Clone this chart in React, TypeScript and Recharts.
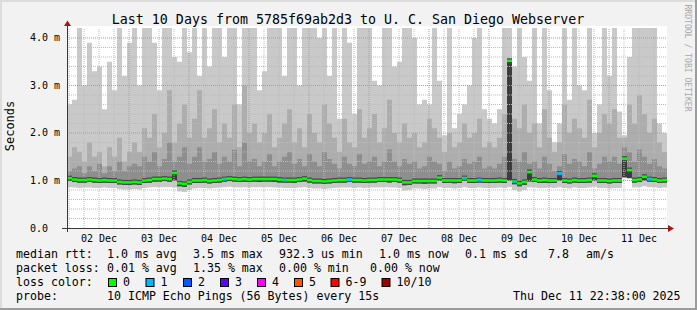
import React from "react";
import { ComposedChart, Area, Line, XAxis, YAxis, ReferenceLine } from "recharts";

const mono = '"DejaVu Sans Mono", monospace';

// hours since the start of the graph (Dec 1 23:12), one column every 2 h
const dayLabels = ["02 Dec", "03 Dec", "04 Dec", "05 Dec", "06 Dec", "07 Dec", "08 Dec", "09 Dec", "10 Dec", "11 Dec"];
const noonHours = [12.8, 36.8, 60.8, 84.8, 108.8, 132.8, 156.8, 180.8, 204.8, 228.8];
const midnightHours = [24.8, 48.8, 72.8, 96.8, 120.8, 144.8, 168.8, 192.8, 216.8];
const sixHourLines = [
  0.8, 6.8, 12.8, 18.8, 30.8, 36.8, 42.8, 54.8, 60.8, 66.8, 78.8, 84.8, 90.8, 102.8, 108.8, 114.8,
  126.8, 132.8, 138.8, 150.8, 156.8, 162.8, 174.8, 180.8, 186.8, 198.8, 204.8, 210.8, 222.8, 228.8, 234.8,
];

const yTicks = [0, 1, 2, 3, 4];
const yTickLabels = ["0.0", "1.0 m", "2.0 m", "3.0 m", "4.0 m"];
const yMinorLines = [0.2, 0.4, 0.6, 0.8, 1.2, 1.4, 1.6, 1.8, 2.2, 2.4, 2.6, 2.8, 3.2, 3.4, 3.6, 3.8];

// ms, sorted ping layers per 2 h column
const maxRtt = [
  2.6, 2.7, 4.5, 3.0, 3.9, 3.3, 3.4, 2.5, 3.5, 2.9, 4.5, 3.2,
  3.9, 4.5, 3.0, 4.5, 4.5, 3.9, 2.9, 4.5, 4.5, 3.6, 3.5, 4.5,
  3.7, 4.5, 3.2, 4.5, 3.4, 4.5, 4.5, 3.6, 4.5, 4.5, 2.6, 4.5,
  4.5, 4.5, 2.9, 3.3, 4.5, 4.5, 4.5, 3.2, 4.5, 4.5, 3.0, 4.5,
  4.5, 4.5, 4.0, 4.5, 3.2, 4.5, 2.3, 4.5, 3.9, 2.4, 4.5, 4.5,
  4.5, 3.1, 3.0, 4.5, 4.5, 3.4, 3.5, 4.5, 4.5, 4.0, 2.6, 2.7,
  2.6, 4.5, 3.1, 1.95, 4.5, 2.1, 2.4, 2.6, 3.0, 4.0, 4.5, 2.5,
  2.3, 2.2, 2.5, 4.5, 4.5, 3.4, 4.5, 3.6, 3.1, 4.5, 2.2, 4.5,
  2.9, 1.8, 2.2, 4.5, 2.7, 4.5, 3.0, 2.9, 4.5, 2.0, 2.6, 4.5,
  3.2, 4.5, 2.45, 1.95, 3.6, 4.5, 4.5, 4.5, 4.5, 4.5, 2.2, 2.0,
];

const upperRtt = [
  1.5, 1.7, 1.6, 1.4, 1.8, 1.5, 1.6, 1.3, 1.7, 1.5, 1.9, 1.4,
  1.6, 1.8, 1.6, 2.1, 1.9, 2.4, 1.7, 2.0, 2.9, 1.8, 2.2, 2.6,
  1.9, 2.3, 2.9, 1.9, 2.1, 2.5, 1.8, 2.2, 1.9, 2.6, 1.7, 3.0,
  2.0, 2.2, 1.8, 2.0, 2.4, 1.7, 1.9, 2.2, 2.5, 1.8, 2.1, 1.7,
  2.4, 2.0, 1.8, 2.6, 2.2, 1.9, 1.6, 2.3, 1.8, 1.7, 2.5, 1.9,
  2.1, 2.4, 1.8, 2.1, 2.7, 2.0, 1.8, 2.2, 1.9, 2.0, 1.7, 1.8,
  2.3, 2.1, 1.9, 1.6, 2.0, 1.7, 1.8, 2.2, 1.9, 2.0, 2.3, 1.7,
  1.8, 1.7, 1.9, 2.4, 3.55, 2.3, 2.1, 2.6, 2.0, 2.2, 1.7, 2.5,
  1.9, 1.6, 1.8, 2.6, 2.0, 2.3, 2.1, 1.9, 2.7, 1.7, 2.0, 2.4,
  2.2, 2.5, 1.9, 1.9, 2.6, 2.2, 2.8, 2.4, 2.0, 2.3, 1.8, 1.6,
];

const innerRtt = [
  1.2, 1.25, 1.3, 1.15, 1.3, 1.2, 1.35, 1.15, 1.3, 1.2, 1.4, 1.2,
  1.3, 1.35, 1.3, 1.5, 1.4, 1.6, 1.3, 1.45, 1.8, 1.4, 1.5, 1.7,
  1.35, 1.5, 1.7, 1.4, 1.45, 1.6, 1.35, 1.5, 1.4, 1.65, 1.3, 1.8,
  1.4, 1.45, 1.3, 1.4, 1.55, 1.3, 1.4, 1.5, 1.6, 1.35, 1.45, 1.3,
  1.55, 1.4, 1.3, 1.6, 1.45, 1.35, 1.25, 1.5, 1.35, 1.3, 1.55, 1.35,
  1.4, 1.5, 1.3, 1.4, 1.65, 1.4, 1.3, 1.45, 1.35, 1.4, 1.25, 1.3,
  1.5, 1.4, 1.35, 1.2, 1.4, 1.25, 1.3, 1.45, 1.35, 1.4, 1.5, 1.25,
  1.3, 1.25, 1.35, 1.5, 3.55, 1.45, 1.4, 1.6, 1.35, 1.4, 1.25, 1.5,
  1.35, 1.2, 1.3, 1.55, 1.35, 1.45, 1.4, 1.3, 1.6, 1.25, 1.35, 1.5,
  1.4, 1.5, 1.35, 1.7, 1.6, 1.4, 1.65, 1.5, 1.35, 1.45, 1.3, 1.25,
];

const medianRtt = [
  1.05, 1.02, 1.01, 1.01, 1.02, 1.01, 1.0, 1.01, 1.0, 1.0, 0.97, 0.96,
  0.96, 0.97, 0.96, 1.0, 1.01, 1.03, 1.03, 1.04, 1.03, 1.16, 0.94, 0.93,
  0.97, 1.0, 1.0, 1.01, 0.99, 1.0, 1.01, 1.03, 1.04, 1.03, 1.02, 1.03,
  1.02, 1.03, 1.03, 1.03, 1.03, 1.03, 1.02, 1.01, 1.01, 1.01, 1.02, 1.04,
  1.01, 0.99, 0.99, 0.98, 0.99, 1.0, 1.01, 1.01, 1.02, 1.01, 1.01, 1.0,
  1.01, 1.01, 1.02, 1.02, 1.02, 1.02, 1.01, 0.96, 0.96, 0.99, 0.99, 0.99,
  0.99, 0.99, 1.06, 1.0, 1.0, 1.0, 1.0, 1.05, 1.0, 1.0, 1.01, 1.0,
  1.0, 1.0, 1.01, 1.0, 3.52, 0.98, 0.94, 0.97, 1.18, 1.02, 1.0, 1.01,
  1.0, 1.0, 1.15, 1.0, 0.99, 1.01, 1.0, 1.0, 1.01, 1.1, 1.0, 1.0,
  0.99, 1.0, 1.0, 1.46, 1.22, 1.01, 1.02, 1.08, 1.03, 1.02, 1.0, 1.01,
];

const lowRtt = [
  0.99, 0.97, 0.96, 0.96, 0.97, 0.96, 0.95, 0.96, 0.95, 0.95, 0.92, 0.91,
  0.91, 0.92, 0.91, 0.95, 0.96, 0.98, 0.98, 0.99, 0.98, 1.0, 0.88, 0.87,
  0.92, 0.95, 0.95, 0.96, 0.94, 0.95, 0.96, 0.98, 0.99, 0.98, 0.97, 0.98,
  0.97, 0.98, 0.97, 0.98, 0.98, 0.97, 0.96, 0.96, 0.96, 0.95, 0.97, 0.98,
  0.96, 0.94, 0.94, 0.93, 0.94, 0.95, 0.96, 0.96, 0.97, 0.96, 0.96, 0.95,
  0.96, 0.96, 0.97, 0.97, 0.96, 0.97, 0.96, 0.9, 0.91, 0.94, 0.94, 0.93,
  0.94, 0.94, 1.0, 0.95, 0.95, 0.94, 0.95, 1.0, 0.95, 0.95, 0.96, 0.95,
  0.95, 0.95, 0.96, 0.95, 1.0, 0.92, 0.88, 0.91, 0.98, 0.97, 0.95, 0.95,
  0.96, 0.95, 1.0, 0.95, 0.94, 0.96, 0.95, 0.95, 0.96, 1.0, 0.95, 0.95,
  0.94, 0.95, 0.95, 1.07, 1.05, 0.96, 0.97, 1.0, 0.98, 0.97, 0.95, 0.96,
];

const minRtt = [
  0.86, 0.85, 0.84, 0.85, 0.85, 0.84, 0.84, 0.85, 0.84, 0.84, 0.82, 0.81,
  0.81, 0.82, 0.81, 0.84, 0.85, 0.86, 0.86, 0.86, 0.86, 0.85, 0.77, 0.76,
  0.8, 0.83, 0.84, 0.84, 0.83, 0.84, 0.85, 0.86, 0.87, 0.86, 0.85, 0.86,
  0.85, 0.86, 0.86, 0.86, 0.86, 0.85, 0.85, 0.84, 0.84, 0.84, 0.85, 0.86,
  0.84, 0.83, 0.83, 0.82, 0.83, 0.84, 0.85, 0.85, 0.85, 0.84, 0.85, 0.84,
  0.85, 0.85, 0.85, 0.86, 0.85, 0.85, 0.84, 0.79, 0.8, 0.83, 0.83, 0.82,
  0.83, 0.83, 0.86, 0.84, 0.84, 0.83, 0.84, 0.86, 0.84, 0.84, 0.85, 0.84,
  0.84, 0.84, 0.85, 0.84, 0.86, 0.8, 0.77, 0.8, 0.85, 0.85, 0.84, 0.84,
  0.85, 0.84, 0.86, 0.84, 0.83, 0.85, 0.84, 0.84, 0.85, 0.87, 0.84, 0.84,
  0.83, 0.84, 0.84, 1.05, 1.03, 0.85, 0.86, 0.88, 0.86, 0.86, 0.84, 0.85,
];

// columns where 1 of 10 pings was lost
const lossOneSteps = [31, 43, 56, 79, 82, 89, 98, 116];

const lossLabels = ["0", "1", "2", "3", "4", "5", "6-9", "10/10"];
const lossColors = ["#00ff00", "#00b8ff", "#0059ff", "#5e00ff", "#ff00ff", "#ff5500", "#ff0000", "#a10000"];

const rows = medianRtt.map((m, i) => ({
  t: i * 2,
  smoke: [minRtt[i], maxRtt[i]],
  outer: [lowRtt[i], upperRtt[i]],
  inner: [lowRtt[i], innerRtt[i]],
  core: [lowRtt[i], m],
  median: m,
  loss: lossOneSteps.includes(i) ? 1 : 0,
}));
// close the last step at the right edge
rows.push({ ...rows[rows.length - 1], t: 240, loss: 0 });
const COL_W = 5; // 600 px / 120 columns

const XTick = (p: any) => (
  <text x={p.x} y={p.y + 10} textAnchor="middle" dominantBaseline="central" fontSize={10} fontFamily={mono} fill="#000">
    {dayLabels[noonHours.indexOf(p.payload.value)]}
  </text>
);

const YTick = (p: any) => (
  <text x={30} y={p.y} dominantBaseline="central" fontSize={10} fontFamily={mono} fill="#000">
    {yTickLabels[yTicks.indexOf(p.payload.value)]}
  </text>
);

// median drawn as one short dash per column (no connecting verticals)
const DarkDash = (p: any) =>
  p.index < medianRtt.length ? (
    <rect key={`d${p.index}`} x={p.cx} y={p.cy - 2.5} width={COL_W} height={5} fill="#4a4a4a" />
  ) : (
    <g key={`d${p.index}`} />
  );

const MedianDash = (p: any) =>
  p.index < medianRtt.length ? (
    <g key={`m${p.index}`}>
      <rect x={p.cx} y={p.cy - 1.25} width={COL_W} height={2.5} fill={lossColors[0]} />
      {p.payload.loss ? <rect x={p.cx + 1} y={p.cy - 1.5} width={3} height={3} fill={lossColors[1]} /> : null}
    </g>
  ) : (
    <g key={`m${p.index}`} />
  );

const legendLines = [
  { y: 254, items: [[16, "median rtt:"], [107, "1.0 ms avg"], [193, "3.5 ms max"], [279, "932.3 us min"], [379, "1.0 ms now"], [465, "0.1 ms sd"], [548, "7.8"], [586, "am/s"]] },
  { y: 268, items: [[16, "packet loss:"], [107, "0.01 % avg"], [193, "1.35 % max"], [279, "0.00 % min"], [370, "0.00 % now"]] },
  { y: 282, items: [[16, "loss color:"]] },
  { y: 296, items: [[16, "probe:"], [107, "10 ICMP Echo Pings (56 Bytes) every 15s"], [513, "Thu Dec 11 22:38:00 2025"]] },
];
const lossBoxX = [108, 145.5, 183, 220, 257, 294, 330.5, 381.5];

export default function App() {
  return (
    <div
      style={{
        position: "absolute",
        left: 0,
        top: 0,
        width: 697,
        height: 310,
        background: "#f2f2f2",
        boxShadow: "inset -2px -2px 0 #9c9c9c, inset 2px 2px 0 #dcdcdc",
        overflow: "hidden",
      }}
    >
      <div style={{ position: "absolute", left: 67, top: 26, width: 600, height: 202, background: "#fff" }} />
      <div style={{ position: "absolute", left: 0, top: 0 }}>
        <ComposedChart width={697} height={310} data={rows} margin={{ top: 28, right: 30, bottom: 62, left: 7 }}>
          <XAxis
            dataKey="t"
            type="number"
            domain={[0, 240]}
            ticks={noonHours}
            interval={0}
            axisLine={false}
            tickLine={false}
            tickSize={0}
            tickMargin={0}
            height={20}
            tick={XTick}
          />
          <YAxis
            type="number"
            domain={[0, 4.21]}
            ticks={yTicks}
            interval={0}
            allowDataOverflow
            axisLine={false}
            tickLine={false}
            tickSize={0}
            tickMargin={0}
            width={60}
            tick={YTick}
          />
          <Area dataKey="smoke" type="stepAfter" stroke="none" fill="#c9c9c9" fillOpacity={1} isAnimationActive={false} dot={false} activeDot={false} />
          <Area dataKey="outer" type="stepAfter" stroke="none" fill="#adadad" fillOpacity={1} isAnimationActive={false} dot={false} activeDot={false} />
          <Area dataKey="inner" type="stepAfter" stroke="none" fill="#8e8e8e" fillOpacity={1} isAnimationActive={false} dot={false} activeDot={false} />
          <Area dataKey="core" type="stepAfter" stroke="none" fill="#3c3c3c" fillOpacity={1} isAnimationActive={false} dot={false} activeDot={false} />
          {yMinorLines.map((v) => (
            <ReferenceLine key={`hy${v}`} y={v} stroke="#bcbcbc" strokeDasharray="1 1" />
          ))}
          {sixHourLines.map((h) => (
            <ReferenceLine key={`hx${h}`} x={h} stroke="#bcbcbc" strokeDasharray="1 1" />
          ))}
          {yTicks.slice(1).map((v) => (
            <ReferenceLine key={`my${v}`} y={v} stroke="#e88080" strokeDasharray="1 1" />
          ))}
          {midnightHours.map((h) => (
            <ReferenceLine key={`mx${h}`} x={h} stroke="#e88080" strokeDasharray="1 1" />
          ))}
          <Line dataKey="median" type="stepAfter" stroke="none" dot={DarkDash} activeDot={false} isAnimationActive={false} />
          <Line dataKey="median" type="stepAfter" stroke="none" dot={MedianDash} activeDot={false} isAnimationActive={false} />
        </ComposedChart>
      </div>
      <svg width={697} height={310} style={{ position: "absolute", left: 0, top: 0, pointerEvents: "none" }}>
        <text x={348} y={19} textAnchor="middle" dominantBaseline="central" fontSize={13.3} fontFamily={mono} fill="#000">
          Last 10 Days from 5785f69ab2d3 to U. C. San Diego Webserver
        </text>
        <text transform="translate(10,126) rotate(-90)" textAnchor="middle" dominantBaseline="central" fontSize={12} fontFamily={mono} fill="#000">
          Seconds
        </text>
        <text transform="translate(688,58) rotate(90)" textAnchor="middle" dominantBaseline="central" fontSize={8.1} fontFamily={mono} fill="#a8a8a8">
          RRDTOOL / TOBI OETIKER
        </text>
        <line x1={67.5} y1={232} x2={67.5} y2={25} stroke="#3a3a3a" strokeWidth={1} />
        <line x1={62} y1={228.5} x2={668} y2={228.5} stroke="#3a3a3a" strokeWidth={1} />
        <polygon points="64,26 71,26 67.5,20.5" fill="#a01818" />
        <polygon points="668,225 668,232 674,228.5" fill="#a01818" />
        {legendLines.map((line) =>
          line.items.map(([x, s]) => (
            <text key={`${line.y}-${x}`} x={x as number} y={line.y} dominantBaseline="central" fontSize={11.6} fontFamily={mono} fill="#000">
              {s}
            </text>
          ))
        )}
        {lossLabels.map((lab, i) => (
          <g key={lab}>
            <rect x={lossBoxX[i] + 0.5} y={278.5} width={8} height={8} fill={lossColors[i]} stroke="#000" strokeWidth={1} />
            <text x={lossBoxX[i] + 15} y={282} dominantBaseline="central" fontSize={11.6} fontFamily={mono} fill="#000">
              {lab}
            </text>
          </g>
        ))}
      </svg>
    </div>
  );
}
